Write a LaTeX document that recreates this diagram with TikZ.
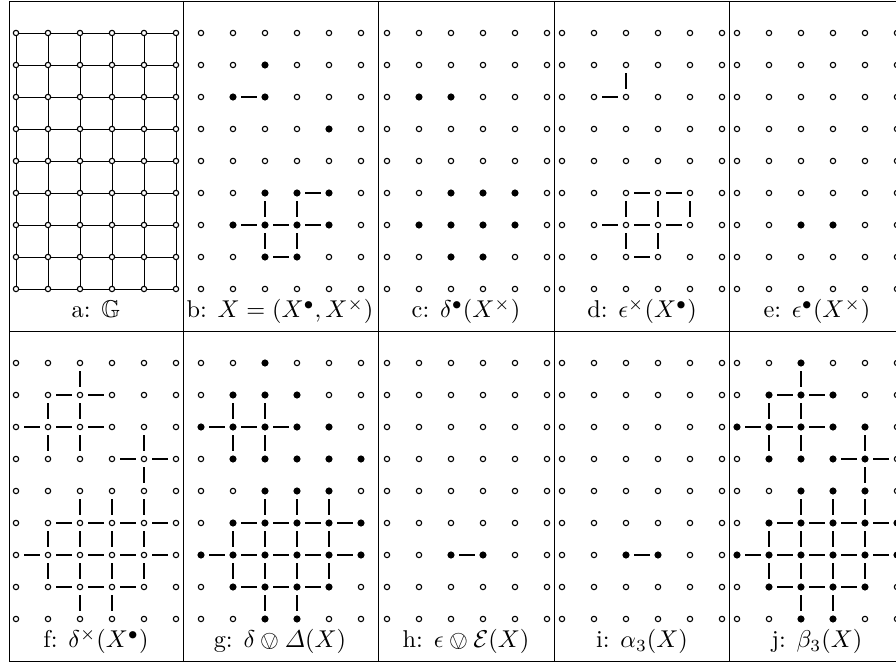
\documentclass[tikz,border=0pt]{standalone}
\usepackage{amsmath,amssymb}
\usepackage{stmaryrd}
\usepackage{tikz}
\tikzset{
  gridpt/.style={circle, draw=black, fill=white, line width=0.45pt, minimum size=2.2pt, inner sep=0pt},
  gridfull/.style={circle, fill=black, minimum size=2.9pt, inner sep=0pt},
  gridedge/.style={-, draw=black, line width=0.8pt, shorten <=2pt, shorten >=2pt},
  gridline/.style={-, draw=black, line width=0.4pt},
  tablerule/.style={draw=black, line width=0.4pt},
  panellabel/.style={anchor=base, inner sep=0pt}
}
% one 6x9 grid of open points, named <panel>-<row>-<col>
\newcommand{\dotgrid}[3]{%
  \foreach \rr in {0,...,8}{\foreach \cc in {0,...,5}{%
    \node[gridpt] (#1-\rr-\cc) at ({#2+32*\cc},{#3+32*\rr}) {};}}}
\newcommand{\fullpts}[2]{%
  \foreach \rr/\cc in {#2}{\node[gridfull] (#1-\rr-\cc-f) at (#1-\rr-\cc) {};}}
\newcommand{\hedges}[2]{%
  \foreach \rr/\cc in {#2}{\pgfmathtruncatemacro\cn{\cc+1}%
    \draw[gridedge] (#1-\rr-\cc) -- (#1-\rr-\cn);}}
\newcommand{\vedges}[2]{%
  \foreach \rr/\cc in {#2}{\pgfmathtruncatemacro\rn{\rr+1}%
    \draw[gridedge] (#1-\rr-\cc) -- (#1-\rn-\cc);}}

\begin{document}
\begin{tikzpicture}[x=0.4115pt, y=-0.4115pt]
  \useasboundingbox (0,0) rectangle (896,663);
  \clip (0,0) rectangle (896,663);

  % table rules
  \foreach \yy in {1,331,661} \draw[tablerule] (9,\yy) -- (905,\yy);
  \foreach \xx in {9,183,378,554,729} \draw[tablerule] (\xx,1) -- (\xx,661);

  % a: the full grid
  \dotgrid{a}{16}{33}
  \foreach \rr in {0,...,8} \foreach \cc [count=\cn from 1] in {0,...,4}
    \draw[gridline] (a-\rr-\cc) -- (a-\rr-\cn);
  \foreach \cc in {0,...,5} \foreach \rr [count=\rn from 1] in {0,...,7}
    \draw[gridline] (a-\rr-\cc) -- (a-\rn-\cc);
  \node[panellabel] (lab-a) at (96,318) {a: $\mathbb{G}$};

  % b
  \dotgrid{b}{201}{33}
  \fullpts{b}{1/2,2/1,2/2,3/4,5/2,5/3,5/4,6/1,6/2,6/3,6/4,7/2,7/3}
  \hedges{b}{2/1,5/3,6/1,6/2,6/3,7/2}
  \vedges{b}{5/2,5/3,6/2,6/3}
  \node[panellabel] (lab-b) at (280,318) {b: $X=(X^\bullet,X^\times)$};

  % c
  \dotgrid{c}{387}{33}
  \fullpts{c}{2/1,2/2,5/2,5/3,5/4,6/1,6/2,6/3,6/4,7/2,7/3}
  \node[panellabel] (lab-c) at (466,318) {c: $\delta^\bullet(X^\times)$};

  % d
  \dotgrid{d}{562}{33}
  \hedges{d}{2/1,5/2,5/3,6/1,6/2,6/3,7/2}
  \vedges{d}{1/2,5/2,5/3,5/4,6/2,6/3}
  \node[panellabel] (lab-d) at (642,318) {d: $\epsilon^\times(X^\bullet)$};

  % e
  \dotgrid{e}{737}{33}
  \fullpts{e}{6/2,6/3}
  \node[panellabel] (lab-e) at (817,318) {e: $\epsilon^\bullet(X^\times)$};

  % f
  \dotgrid{f}{16}{363}
  \hedges{f}{1/1,1/2,2/0,2/1,2/2,3/3,3/4,5/1,5/2,5/3,5/4,6/0,6/1,6/2,6/3,6/4,7/1,7/2,7/3}
  \vedges{f}{0/2,1/1,1/2,2/1,2/2,2/4,3/4,4/2,4/3,4/4,5/1,5/2,5/3,5/4,6/1,6/2,6/3,6/4,7/2,7/3}
  \node[panellabel] (lab-f) at (96,648) {f: $\delta^\times(X^\bullet)$};

  % g
  \dotgrid{g}{201}{363}
  \fullpts{g}{0/2,1/1,1/2,1/3,2/0,2/1,2/2,2/3,2/4,3/1,3/2,3/3,3/4,3/5,4/2,4/3,4/4,
    5/1,5/2,5/3,5/4,5/5,6/0,6/1,6/2,6/3,6/4,6/5,7/1,7/2,7/3,7/4,8/2,8/3}
  \hedges{g}{2/0,2/1,2/2,5/1,5/2,5/3,5/4,6/0,6/1,6/2,6/3,6/4,7/1,7/2,7/3}
  \vedges{g}{1/1,1/2,2/1,2/2,4/2,4/3,4/4,5/1,5/2,5/3,5/4,6/1,6/2,6/3,6/4,7/2,7/3}
  \node[panellabel] (lab-g) at (280,648) {g: $\delta\ovee\varDelta(X)$};

  % h
  \dotgrid{h}{387}{363}
  \fullpts{h}{6/2,6/3}
  \hedges{h}{6/2}
  \node[panellabel] (lab-h) at (466,648) {h: $\epsilon\ovee\mathcal{E}(X)$};

  % i
  \dotgrid{i}{562}{363}
  \fullpts{i}{6/2,6/3}
  \hedges{i}{6/2}
  \node[panellabel] (lab-i) at (642,648) {i: $\alpha_3(X)$};

  % j
  \dotgrid{j}{737}{363}
  \fullpts{j}{0/2,1/1,1/2,1/3,2/0,2/1,2/2,2/3,2/4,3/1,3/2,3/3,3/4,4/2,4/3,4/4,
    5/1,5/2,5/3,5/4,5/5,6/0,6/1,6/2,6/3,6/4,6/5,7/1,7/2,7/3,7/4,8/2,8/3}
  \hedges{j}{1/1,1/2,2/0,2/1,2/2,3/3,3/4,5/1,5/2,5/3,5/4,6/0,6/1,6/2,6/3,6/4,7/1,7/2,7/3}
  \vedges{j}{0/2,1/1,1/2,2/1,2/2,2/4,3/4,4/2,4/3,4/4,5/1,5/2,5/3,5/4,6/1,6/2,6/3,6/4,7/2,7/3}
  \node[panellabel] (lab-j) at (817,648) {j: $\beta_3(X)$};
\end{tikzpicture}
\end{document}
